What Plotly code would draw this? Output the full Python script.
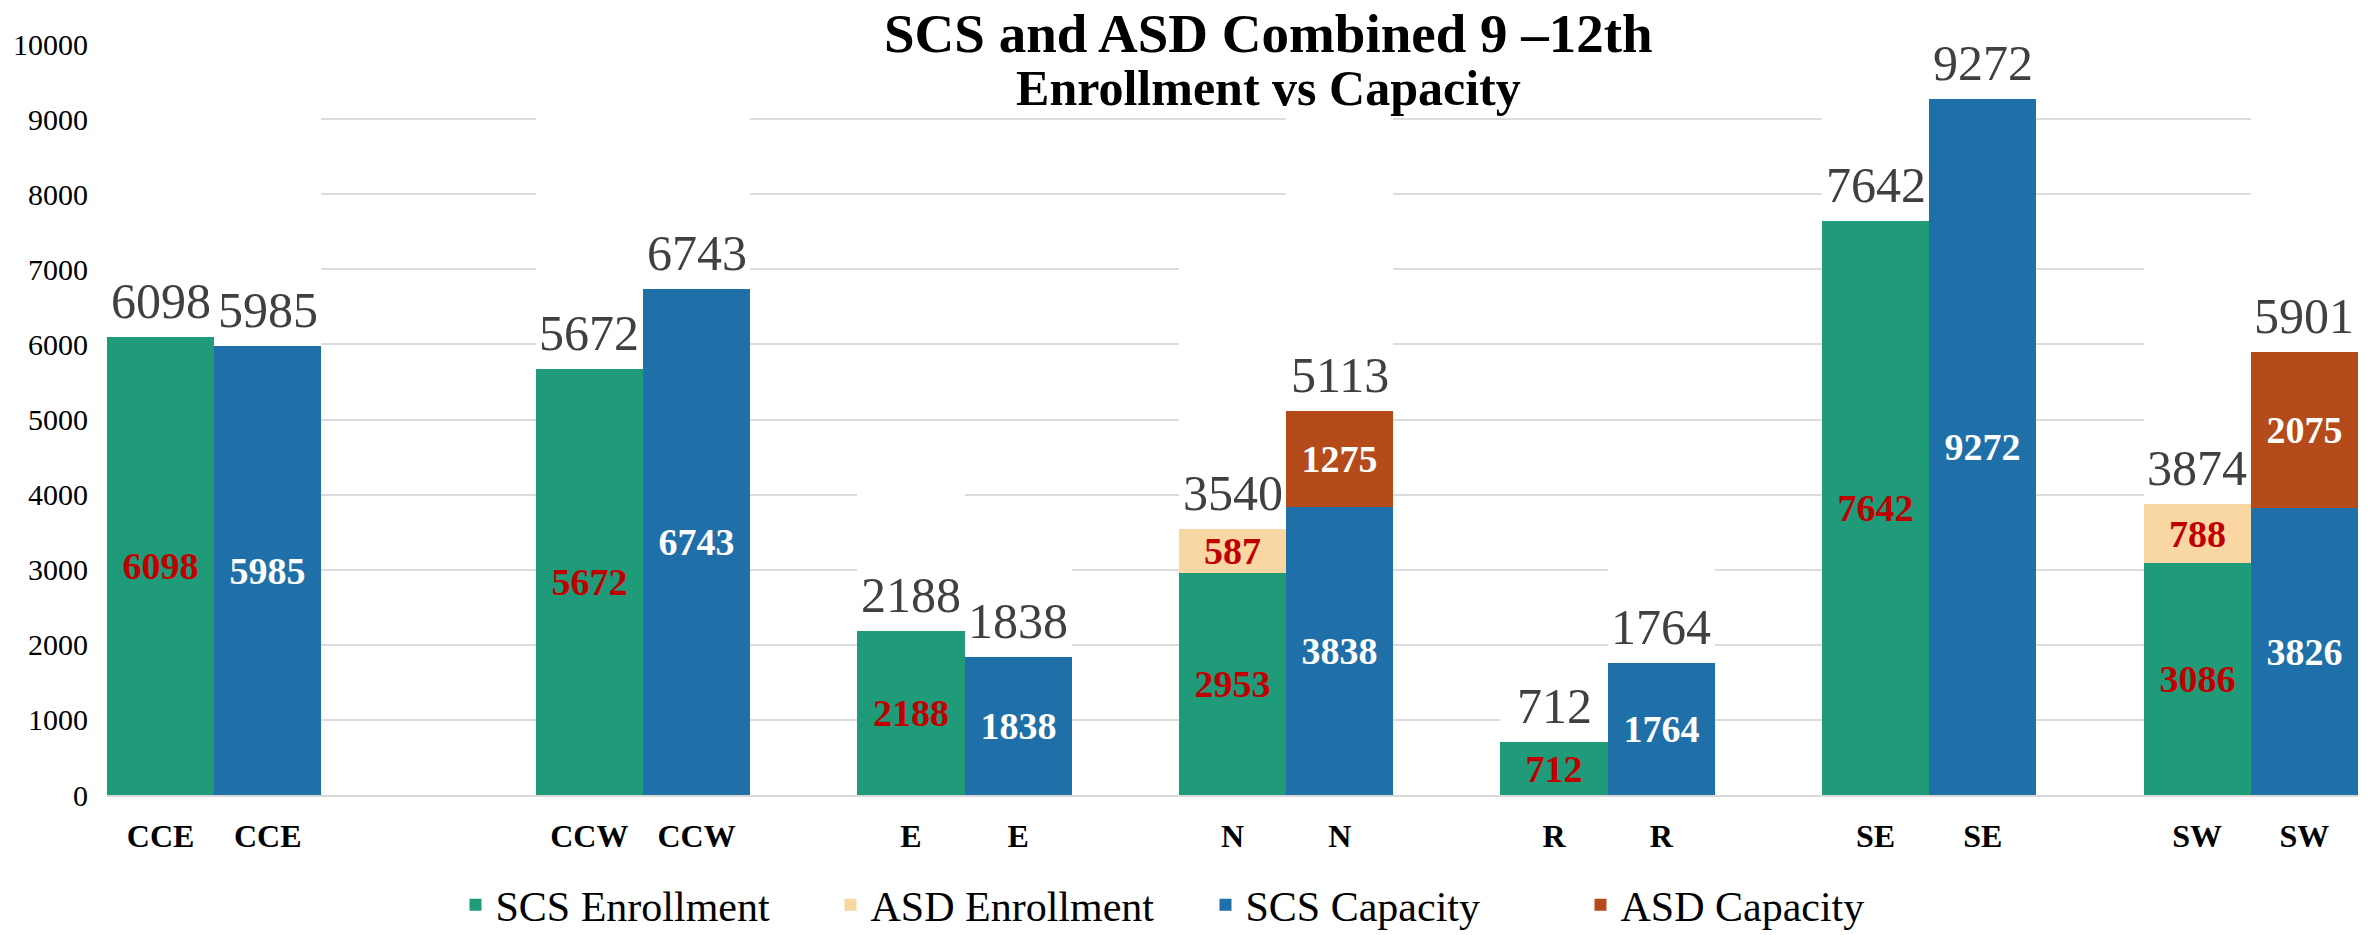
import plotly.graph_objects as go

# ---------------- data ----------------
sites = ["CCE", "CCW", "E", "N", "R", "SE", "SW"]
scs_enrollment = [6098, 5672, 2188, 2953, 712, 7642, 3086]
asd_enrollment = [0, 0, 0, 587, 0, 0, 788]
scs_capacity = [5985, 6743, 1838, 3838, 1764, 9272, 3826]
asd_capacity = [0, 0, 0, 1275, 0, 0, 2075]
slot_labels = ["CCE", "CCE", "", "", "CCW", "CCW", "", "E", "E", "", "N", "N", "",
               "R", "R", "", "SE", "SE", "", "SW", "SW"]
y_ticks = [0, 1000, 2000, 3000, 4000, 5000, 6000, 7000, 8000, 9000, 10000]
title_line1 = "SCS and ASD Combined 9 –12th"
title_line2 = "Enrollment vs Capacity"

# ---------------- derived ----------------
enr_x = [slot_labels.index(s) for s in sites]
cap_x = [i + 1 for i in enr_x]
enr_total = [a + b for a, b in zip(scs_enrollment, asd_enrollment)]
cap_total = [a + b for a, b in zip(scs_capacity, asd_capacity)]

def nz(vals):
    return [v if v else None for v in vals]

def nzt(vals):
    return [str(v) if v else "" for v in vals]

GREEN = "#1f9b7a"
PEACH = "#f8d7a3"
BLUE = "#1f6fa8"
RUST = "#b54a1a"
RED_TXT = "#c00000"
GREY_TXT = "#404040"
SERIF = "Liberation Serif, DejaVu Serif, serif"

inner_font_red = dict(family=SERIF, size=38, color=RED_TXT, weight="bold")
inner_font_white = dict(family=SERIF, size=38, color="white", weight="bold")

fig = go.Figure()
fig.add_trace(go.Bar(name="SCS Enrollment", x=enr_x, y=nz(scs_enrollment), text=nzt(scs_enrollment),
                     marker=dict(color=GREEN, line=dict(width=0)), textposition="inside",
                     insidetextanchor="middle", textfont=inner_font_red, constraintext="none",
                     textangle=0))
fig.add_trace(go.Bar(name="ASD Enrollment", x=enr_x, y=nz(asd_enrollment), text=nzt(asd_enrollment),
                     marker=dict(color=PEACH, line=dict(width=0)), textposition="inside",
                     insidetextanchor="middle", textfont=inner_font_red, constraintext="none",
                     textangle=0))
fig.add_trace(go.Bar(name="SCS Capacity", x=cap_x, y=nz(scs_capacity), text=nzt(scs_capacity),
                     marker=dict(color=BLUE, line=dict(width=0)), textposition="inside",
                     insidetextanchor="middle", textfont=inner_font_white, constraintext="none",
                     textangle=0))
fig.add_trace(go.Bar(name="ASD Capacity", x=cap_x, y=nz(asd_capacity), text=nzt(asd_capacity),
                     marker=dict(color=RUST, line=dict(width=0)), textposition="inside",
                     insidetextanchor="middle", textfont=inner_font_white, constraintext="none",
                     textangle=0))
# white "total" series stacked on top (hides gridlines like the original)
fig.add_trace(go.Bar(name="Total", x=enr_x + cap_x, y=enr_total + cap_total,
                     marker=dict(color="white", line=dict(width=0)), showlegend=False,
                     hoverinfo="skip"))

for xv, tv in zip(enr_x + cap_x, enr_total + cap_total):
    fig.add_annotation(x=xv, y=tv, text=str(tv), showarrow=False, yanchor="bottom", yshift=6,
                       font=dict(family=SERIF, size=50, color=GREY_TXT))

fig.add_annotation(xref="paper", yref="paper", x=0.516, y=0.9794, yanchor="middle",
                   text=("<span style='font-size:55px'>" + title_line1 + "</span><br>"
                         "<span style='font-size:50px'>" + title_line2 + "</span>"),
                   showarrow=False, bgcolor="white", borderpad=0,
                   font=dict(family=SERIF, size=41, color="black", weight="bold"))

tick_idx = [i for i, s in enumerate(slot_labels) if s]
fig.update_layout(
    width=2379, height=935,
    barmode="stack", bargap=0, bargroupgap=0,
    plot_bgcolor="white", paper_bgcolor="white",
    margin=dict(l=107, r=21, t=44, b=140, autoexpand=False),
    showlegend=True,
    legend=dict(orientation="h", x=0.488, xanchor="center", yref="container",
                y=1 - 905 / 935, yanchor="middle",
                traceorder="normal", entrywidth=330, entrywidthmode="pixels",
                font=dict(family=SERIF, size=42, color="black")),
    xaxis=dict(range=[-0.5, len(slot_labels) - 0.5], tickvals=tick_idx, automargin=False,
               ticktext=[slot_labels[i] for i in tick_idx], showgrid=False, zeroline=False,
               showline=True, linecolor="#d9d9d9", linewidth=2, ticks="", ticklabelstandoff=12,
               tickfont=dict(family=SERIF, size=32, color="black", weight="bold")),
    yaxis=dict(range=[0, 10000], tickvals=y_ticks, ticktext=[str(v) for v in y_ticks],
               automargin=False, showgrid=True, gridcolor="#dcdcdc",
               gridwidth=2, zeroline=False, showline=False, ticks="", ticklabelstandoff=18,
               tickfont=dict(family=SERIF, size=30, color="black")),
)

fig.write_html("out.html", config={"displayModeBar": False},
               post_script="document.body.style.margin='0';document.body.style.overflow='hidden';")
